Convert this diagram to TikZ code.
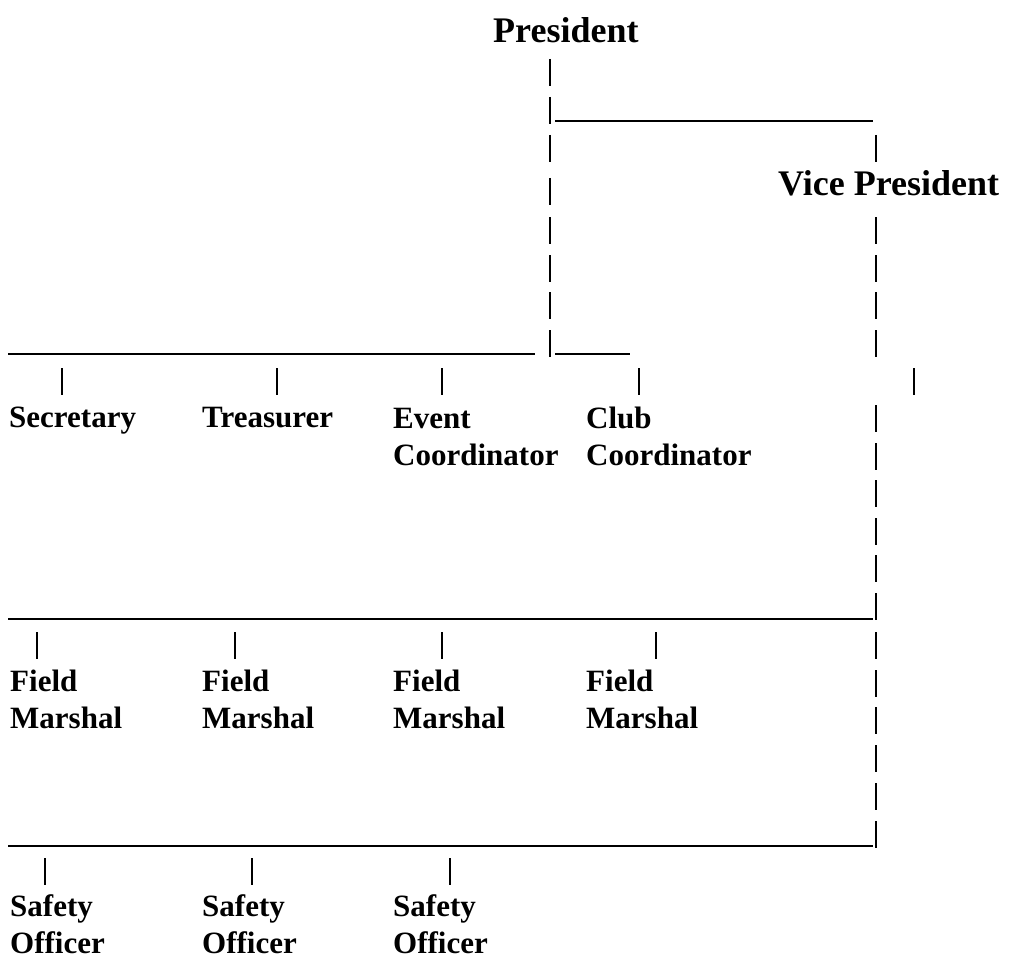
\documentclass[tikz,border=0pt]{standalone}
\usepackage{fontspec}
\setmainfont{Liberation Serif}
\usetikzlibrary{positioning}

\tikzset{
  head/.style={anchor=base west, inner sep=0pt, font=\bfseries\fontsize{36}{42}\selectfont},
  role/.style={anchor=base west, inner sep=0pt, align=left, font=\bfseries\fontsize{31}{37}\selectfont},
  bar/.style={line width=2.2pt},
  rule/.style={line width=2pt}
}

\begin{document}
\begin{tikzpicture}[x=1pt, y=-1pt]
  \useasboundingbox (0,0) rectangle (1011,960);

  % heads
  \node[head] (pres) at (493,43) {President};
  \node[head] (vp) at (778,195) {Vice President};

  % second level (base = last line)
  \node[role] (sec) at (9,427) {Secretary};
  \node[role] (treas) at (202,427) {Treasurer};
  \node[role] (event) at (393,465) {Event\\Coordinator};
  \node[role] (club) at (586,465) {Club\\Coordinator};

  % field marshals and safety officers
  \foreach \x [count=\i] in {10,202,393,586}
    \node[role] (fm\i) at (\x,728) {Field\\Marshal};
  \foreach \x [count=\i] in {10,202,393}
    \node[role] (so\i) at (\x,953) {Safety\\Officer};

  % underscores
  \draw[rule] (555,121) -- (873,121);
  \draw[rule] (8,354) -- (535,354);
  \draw[rule] (555,354) -- (630,354);
  \draw[rule] (8,619) -- (873,619);
  \draw[rule] (8,846) -- (873,846);

  % bars
  \foreach \y in {59,97,135,178,217,255,292,330}
    \draw[bar] (550,\y) -- ++(0,27);
  \foreach \y in {135,217,255,292,330,405,443,480,518,555,593,632,670,707,745,783,821}
    \draw[bar] (876,\y) -- ++(0,27);
  \foreach \x in {62,277,442,639,914}
    \draw[bar] (\x,368) -- ++(0,27);
  \foreach \x in {37,235,442,656}
    \draw[bar] (\x,632) -- ++(0,27);
  \foreach \x in {45,252,450}
    \draw[bar] (\x,858) -- ++(0,27);
\end{tikzpicture}
\end{document}
